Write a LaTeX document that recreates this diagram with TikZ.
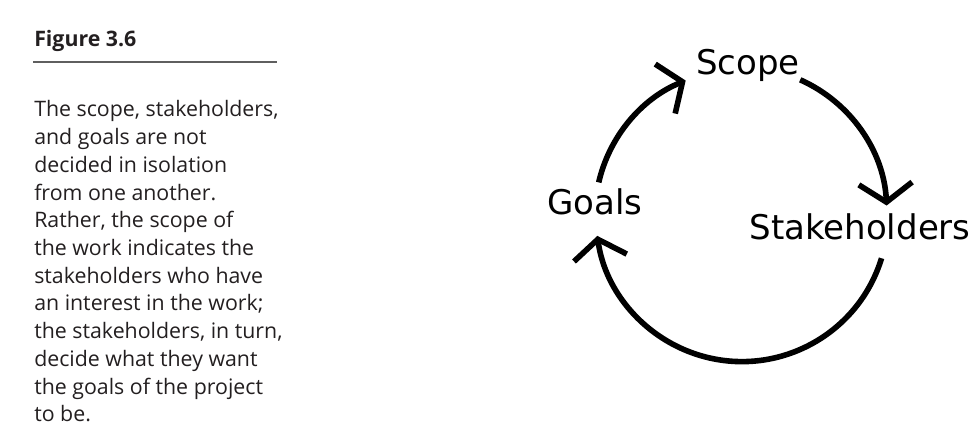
\documentclass[tikz,border=0pt]{standalone}
\usepackage{fontspec}
\setmainfont{Open Sans}
\newfontfamily\handfont{DejaVu Sans}
\usetikzlibrary{
    arrows.meta,
    calc
}
\definecolor{inkgray}{RGB}{35,31,32}
\definecolor{rulegray}{RGB}{95,95,95}

\begin{document}
\begin{tikzpicture}[
    x=0.75pt, y=0.75pt,
    cycle arrow/.style={
      line width=4.2pt,
      -{Straight Barb[length=14pt, width=40pt]}
    },
    hand label/.style={
      font=\handfont\fontsize{25.5}{30}\selectfont,
      anchor=base,
      inner sep=0pt
    },
    caption line/.style={
      font=\fontsize{16}{20}\selectfont,
      text=inkgray,
      anchor=base west,
      inner sep=0pt
    }
  ]

  \useasboundingbox (0,0) rectangle (975,436);

  % caption {{{
  \node[caption line, font=\bfseries\fontsize{16}{20}\selectfont]
    (figtitle) at (34,389) {Figure 3.6};
  \draw[rulegray, line width=1.1pt] (33,374) -- (277,374);

  \foreach \txt [count=\i from 0] in {
      {The scope, stakeholders,},
      {and goals are not},
      {decided in isolation},
      {from one another.},
      {Rather, the scope of},
      {the work indicates the},
      {stakeholders who have},
      {an interest in the work;},
      {the stakeholders, in turn,},
      {decide what they want},
      {the goals of the project},
      {to be.}}
    \node[caption line, name=cap\i] at (34, 319-27.7*\i) {\txt};
  % }}}

  % cycle {{{
  \coordinate (hub) at (740,221);

  \node[hand label] (scope) at (748,361) {Scope};
  \node[hand label] (stakeholders) at (860,196) {Stakeholders};
  \node[hand label] (goals) at (595,221) {Goals};

  \draw[cycle arrow] ($(hub)+(167:145)$) arc[start angle=167, end angle=112, radius=145];
  \draw[cycle arrow] ($(hub)+(66:148)$) arc[start angle=66, end angle=3, radius=146];
  \draw[cycle arrow] ($(hub)+(-17:148)$) arc[start angle=-17, end angle=-172, radius=146];
  % }}}

\end{tikzpicture}
\end{document}
